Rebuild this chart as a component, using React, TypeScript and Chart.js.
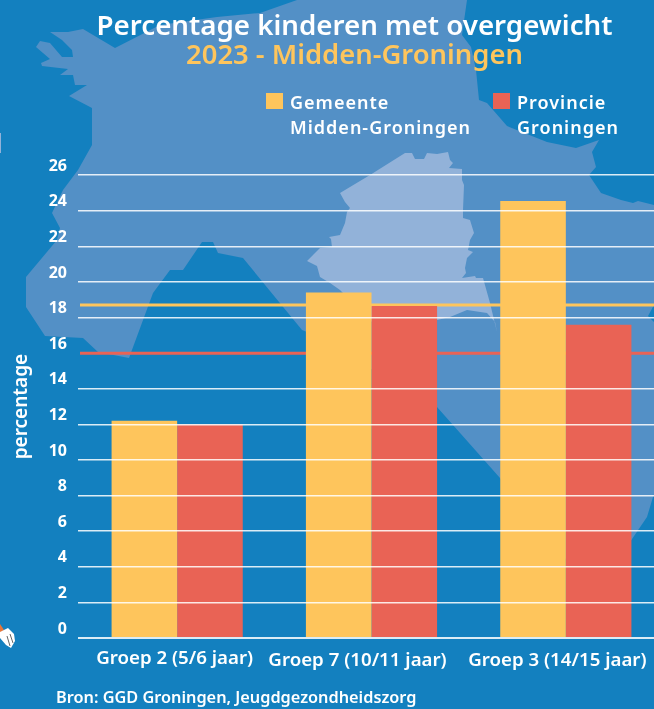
import React, { useEffect, useRef } from "react";
import { Chart, registerables } from "chart.js";

Chart.register(...registerables);

// ---- data ----
const categories = ["Groep 2 (5/6 jaar)", "Groep 7 (10/11 jaar)", "Groep 3 (14/15 jaar)"];
const gemeenteValues = [12.2, 19.4, 24.55];
const provincieValues = [12.0, 18.65, 17.6];
const gemeenteAverage = [18.7, 18.7];
const provincieAverage = [16.0, 16.0];
const referenceSpan = [-0.5, 2.5];
const legendGemeente = ["Gemeente", "Midden-Groningen"];
const legendProvincie = ["Provincie", "Groningen"];
const titleText = "Percentage kinderen met overgewicht";
const subtitleText = "2023 - Midden-Groningen";
const yAxisTitle = "percentage";
const sourceText = "Bron: GGD Groningen, Jeugdgezondheidszorg";

// ---- style ----
const FONT = "'Noto Sans', sans-serif";
const BG = "#1380BF";
const MAP = "#5390C6";
const MAP_INNER = "#92B2D9";
const YELLOW = "#FEC55C";
const RED = "#E96355";

// ---- decorative background shapes (not data) ----
const provinceOutline =
  "297,0 260,13 217,17 160,25 115,48 83,29 68,32 50,32 62,40 72,50 73,57 62,57 50,43 40,41 36,47 50,59 41,63 42,66 68,69 60,75 73,75 75,85 87,85 69,96 92,108 92,145 78,170 63,190 52,213 60,228 57,240 26,277 26,307 45,336 83,338 98,352 129,358 153,293 170,270 183,270 202,242 213,242 218,253 243,258 302,330 307,332 437,407 500,478 560,560 630,542 647,517 653,497 660,480 660,324 654,322 648,316 654,305 660,300 660,207 654,205 638,201 633,203 621,200 601,193 589,175 596,167 592,152 599,140 576,148 547,142 507,126 487,103 479,100 476,70 471,47 462,35 467,0";
const municipalityOutline =
  "340,193 370,175 405,153 412,153 415,159 424,159 427,153 437,154 448,152 450,160 453,163 449,168 462,169 462,180 464,185 463,210 463,218 470,220 474,233 470,240 468,250 473,252 467,258 465,268 466,273 462,278 475,276 476,278 483,278 490,303 497,332 495,322 487,313 467,310 450,317 437,320 380,330 340,290 330,283 320,277 317,266 307,261 320,248 332,247 331,239 329,237 340,235 345,223 347,212 350,208 345,202";

const placementPlugin = {
  id: "placement",
  afterLayout(chart: any) {
    chart.boxes.forEach((b: any) => {
      if (b.options && b.options.text != null && b.position === "top") {
        b.left += 23;
        b.right += 23;
      }
    });
    const shifts = [[-2.5, -2], [-14, 0], [-8.5, 0]];
    chart.scales.x.getLabelItems().forEach((item: any, i: number) => {
      item.options.translation[0] += shifts[i][0];
      item.options.translation[1] += shifts[i][1];
    });
  },
};

function LegendEntry({ left, color, lines }: { left: number; color: string; lines: string[] }) {
  return (
    <>
      <div style={{ position: "absolute", left, top: 93, width: 16.5, height: 16, background: color }} />
      <div
        style={{
          position: "absolute", left: left + 24, top: 89.5,
          font: `600 18px ${FONT}`, lineHeight: "25px", letterSpacing: "1px",
          color: "#fff", whiteSpace: "nowrap",
        }}
      >
        {lines.map((line) => <div key={line}>{line}</div>)}
      </div>
    </>
  );
}

export default function App() {
  const ref = useRef<HTMLCanvasElement>(null);
  useEffect(() => {
    const chart = new Chart(ref.current as HTMLCanvasElement, {
      type: "bar",
      plugins: [placementPlugin],
      data: {
        labels: categories,
        datasets: [
          { label: "Gemeente Midden-Groningen", data: gemeenteValues, backgroundColor: YELLOW, order: 1, categoryPercentage: 0.675, barPercentage: 1 },
          { label: "Provincie Groningen", data: provincieValues, backgroundColor: RED, order: 1, categoryPercentage: 0.675, barPercentage: 1 },
          {
            type: "line", label: "Gemiddelde gemeente", order: 2, parsing: false,
            data: referenceSpan.map((x, i) => ({ x, y: gemeenteAverage[i] })),
            borderColor: YELLOW, borderWidth: 3, pointRadius: 0,
          },
          {
            type: "line", label: "Gemiddelde provincie", order: 2, parsing: false,
            data: referenceSpan.map((x, i) => ({ x, y: provincieAverage[i] })),
            borderColor: RED, borderWidth: 3, pointRadius: 0,
          },
        ] as any,
      },
      options: {
        responsive: false,
        animation: false,
        layout: { autoPadding: false, padding: 0 },
        scales: {
          x: {
            grid: { display: false },
            border: { display: false },
            ticks: { color: "#fff", font: { family: FONT, size: 18.7, weight: "600" }, padding: 3, maxRotation: 0, autoSkip: false },
            afterFit: (s: any) => { s.height = 71; },
          },
          y: {
            min: 0, max: 26,
            grid: {
              z: 1,
              color: (c: any) => (c.tick && c.tick.value === 16 ? "rgba(255,255,255,0)" : "rgba(255,255,255,0.85)"),
              lineWidth: (c: any) => (c.tick && c.tick.value === 0 ? 2 : 1.5),
              tickLength: 2,
              drawTicks: true,
            },
            border: { display: false },
            ticks: { stepSize: 2, color: "#fff", font: { family: FONT, size: 16, weight: "700" }, padding: 11, labelOffset: -9 },
            title: { display: true, text: yAxisTitle, color: "#fff", font: { family: FONT, size: 19, weight: "600" }, padding: { top: 10, bottom: 0 } },
            afterFit: (s: any) => { s.width = 80; },
          },
        },
        plugins: {
          tooltip: { enabled: false },
          legend: { display: false },
          title: {
            display: true, text: titleText, color: "#fff",
            font: { family: FONT, size: 27.7, weight: "600" },
            padding: { top: 10.5, bottom: -4 },
          },
          subtitle: {
            display: true, text: subtitleText, color: YELLOW,
            font: { family: FONT, size: 27.4, weight: "600" },
            padding: { top: 0, bottom: 102.5 },
          },
        },
      } as any,
    });
    return () => chart.destroy();
  }, []);

  return (
    <div style={{ position: "absolute", left: 0, top: 0, width: 654, height: 709, overflow: "hidden", background: BG }}>
      <svg width={654} height={709} style={{ position: "absolute", left: 0, top: 0 }}>
        <polygon points={provinceOutline} fill={MAP} />
        <polygon points={municipalityOutline} fill={MAP_INNER} />
        <rect x={0} y={133} width={1} height={20} fill={MAP_INNER} />
        <polygon points="0,624 4,630 0,633" fill="#E8763A" />
        <polygon points="0,632 8,628 14,634 15,641 11,648 6,645 0,638" fill="#fff" />
        <path d="M7,636 L10,646 M10,634 L13,643" stroke="#666" strokeWidth={1} />
      </svg>
      <canvas ref={ref} width={663} height={709} style={{ position: "absolute", left: 0, top: 0, display: "block" }} />
      <LegendEntry left={266} color={YELLOW} lines={legendGemeente} />
      <LegendEntry left={493} color={RED} lines={legendProvincie} />
      <div style={{ position: "absolute", left: 56, top: 686, font: `600 16.3px ${FONT}`, lineHeight: "22px", color: "#fff", whiteSpace: "nowrap" }}>
        {sourceText}
      </div>
    </div>
  );
}
